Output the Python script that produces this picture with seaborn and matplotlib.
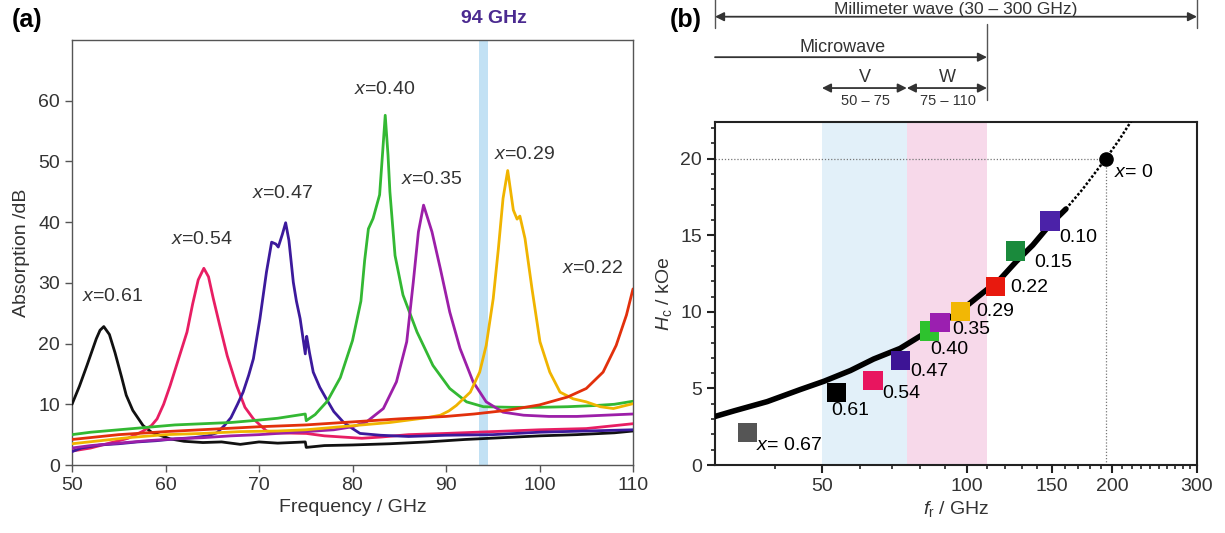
import numpy as np
import pandas as pd
import matplotlib
matplotlib.use("Agg")
import matplotlib.pyplot as plt
import matplotlib.ticker as mticker
import seaborn as sns

# ---------------- data: panel (a) absorption spectra ----------------
f_061 = [50, 50.8, 51.6, 52.1, 52.6, 53.0, 53.4, 54.0, 54.6, 55.3, 55.8, 56.5, 57.6, 58.5, 59.4,
         60.5, 62, 64, 66, 68, 70, 72, 74.95, 75.05, 77, 80, 84, 88, 92, 96, 100, 104, 108, 110]
a_061 = [10.0, 13.0, 16.4, 18.6, 20.8, 22.2, 22.8, 21.5, 18.5, 14.5, 11.5, 9.0, 6.5, 5.4, 4.9,
         4.3, 3.9, 3.7, 3.8, 3.4, 3.8, 3.6, 3.8, 2.9, 3.2, 3.3, 3.5, 3.8, 4.2, 4.5, 4.8, 5.0, 5.3, 5.6]

f_054 = [50, 52, 54, 56, 57.5, 58.5, 59.1, 59.8, 60.5, 61.4, 62.3, 62.9, 63.5, 64.1, 64.6, 65.1,
         65.8, 66.6, 67.6, 68.5, 69.4, 70.8, 72, 74.95, 75.05, 77, 79, 81, 83, 86, 90, 95, 100, 105, 110]
a_054 = [2.3, 2.8, 3.6, 4.4, 5.5, 6.5, 7.6, 10.0, 13.1, 17.5, 21.9, 26.5, 30.5, 32.4, 31.0, 27.5,
         23.0, 18.0, 13.1, 9.5, 7.6, 5.6, 5.3, 5.2, 5.2, 4.8, 4.6, 4.4, 4.6, 5.0, 5.2, 5.5, 5.8, 6.0, 6.8]

f_047 = [50, 51, 53, 55, 57, 59, 61, 63, 64.5, 65.5, 66.3, 67.0, 67.7, 68.3, 68.9, 69.4, 70.1,
         70.8, 71.35, 71.8, 72.06, 72.5, 72.85, 73.2, 73.67, 74.0, 74.4, 74.95, 75.05, 75.1, 75.4,
         75.8, 76.5, 77.2, 78.0, 79.0, 80.0, 80.8, 83, 86, 90, 95, 100, 105, 110]
a_047 = [2.2, 2.8, 3.3, 3.5, 3.8, 4.0, 4.3, 4.5, 4.8, 5.3, 6.5, 7.8, 10.0, 12.0, 14.8, 17.5, 24.1,
         31.8, 36.7, 36.4, 35.9, 38.0, 39.9, 37.0, 30.1, 27.0, 24.1, 18.3, 20.5, 21.2, 18.5,
         15.3, 12.8, 10.9, 8.8, 7.1, 6.0, 5.2, 4.9, 4.7, 4.9, 5.0, 5.4, 5.6, 5.8]

f_040 = [50, 52, 55, 58, 61, 64, 67, 70, 72, 74.95, 75.05, 76.0, 77.3, 78.7, 80.0, 80.9, 81.3,
         81.7, 82.2, 82.9, 83.2, 83.5, 83.8, 84.0, 84.55, 85.4, 86.9, 88.6, 90.4, 92.2, 94.0,
         97, 100, 103, 106, 108, 110]
a_040 = [5.0, 5.4, 5.8, 6.2, 6.6, 6.8, 7.0, 7.4, 7.7, 8.4, 7.3, 8.3, 10.5, 14.4, 20.5, 27.0, 33.7,
         38.9, 40.6, 44.5, 51.0, 57.6, 51.0, 45.0, 34.5, 28.0, 21.9, 16.4, 12.6, 10.4, 9.6,
         9.5, 9.5, 9.6, 9.8, 10.0, 10.5]

f_035 = [50, 52, 55, 58, 61, 64, 67, 70, 73, 75, 78, 80, 81.5, 83.3, 84.7, 85.8, 86.5, 87.05,
         87.6, 88.5, 89.4, 90.4, 91.5, 92.9, 94.3, 96.1, 98.3, 101, 104, 107, 110]
a_035 = [2.8, 3.2, 3.6, 4.0, 4.3, 4.5, 4.8, 5.0, 5.3, 5.5, 5.8, 6.3, 7.1, 9.3, 13.7, 20.3, 30.1,
         38.4, 42.8, 38.4, 32.3, 25.2, 19.2, 13.7, 10.4, 8.7, 8.2, 8.0, 8.0, 8.2, 8.4]

f_029 = [50, 53, 56, 60, 64, 68, 72, 75, 78, 81, 84, 86, 88, 89.4, 90.3, 91.1, 92.6, 93.6, 94.3,
         95.05, 95.6, 96.1, 96.6, 97.2, 97.6, 97.9, 98.45, 99.2, 100.05, 101.1, 102.2, 103.6,
         105.0, 106.5, 107.9, 110]
a_029 = [3.5, 4.0, 4.5, 5.0, 5.2, 5.5, 5.6, 5.8, 6.2, 6.6, 7.0, 7.4, 7.8, 8.2, 8.9, 9.8, 12.0,
         15.3, 19.7, 27.4, 35.6, 43.9, 48.5, 42.0, 40.5, 41.0, 37.3, 29.0, 20.3, 15.3, 12.0, 10.9,
         10.4, 9.6, 9.3, 10.1]

f_022 = [50, 55, 60, 65, 70, 75, 80, 85, 90, 93, 96.5, 100, 103, 105, 106.8, 108.2, 109.3, 110]
a_022 = [4.2, 5.0, 5.5, 5.9, 6.3, 6.6, 7.1, 7.6, 8.0, 8.4, 9.0, 9.9, 11.2, 12.6, 15.3, 19.7, 24.7, 29.0]

spec_labels = ["x=0.61", "x=0.54", "x=0.47", "x=0.40", "x=0.35", "x=0.29", "x=0.22"]
spec_freqs = [f_061, f_054, f_047, f_040, f_035, f_029, f_022]
spec_abs = [a_061, a_054, a_047, a_040, a_035, a_029, a_022]
spec_colors = ["#111111", "#e81e63", "#3c1a9c", "#33b833", "#9c1fa8", "#f0b400", "#e2300c"]
label_f = [54.3, 63.9, 72.5, 83.4, 88.4, 98.4, 105.7]
label_a = [27.8, 37.2, 44.8, 61.8, 47.1, 51.2, 32.4]

# ---------------- data: panel (b) coercivity vs resonance frequency ----------------
pt_x = ["0.67", "0.61", "0.54", "0.47", "0.40", "0.35", "0.29", "0.22", "0.15", "0.10"]
pt_f = [35.0, 53.5, 63.8, 72.8, 83.5, 87.9, 97.1, 114.4, 125.8, 148.6]
pt_hc = [2.14, 4.72, 5.53, 6.82, 8.75, 9.28, 10.03, 11.64, 13.98, 15.93]
pt_colors = ["#555555", "#000000", "#e8155f", "#3d1495", "#2ec22e", "#9b1fb0",
             "#f2b705", "#e8190e", "#1a8a3c", "#4b22a8"]
pt_text = ["$x$= 0.67", "0.61", "0.54", "0.47", "0.40", "0.35", "0.29", "0.22", "0.15", "0.10"]
pt_text_f = [42.8, 57.2, 72.9, 83.6, 91.9, 101.9, 114.4, 134.3, 151.0, 169.9]
pt_text_hc = [1.29, 3.54, 4.65, 6.1, 7.57, 8.85, 10.0, 11.6, 13.25, 14.86]

curve_f = [30.0, 32.9, 38.5, 45.1, 50.5, 57.3, 64.0, 72.6, 82.5, 92.2, 99.7, 107.9, 116.9,
           126.5, 136.9, 148.2, 160.4]
curve_hc = [3.17, 3.54, 4.14, 4.93, 5.47, 6.17, 6.92, 7.61, 8.68, 9.63, 10.38, 11.25, 12.11,
            13.29, 14.36, 15.65, 16.72]
extrap_f = [160.4, 173.6, 194.0, 206.7, 218.5, 225.0]
extrap_hc = [16.72, 18.0, 20.0, 21.22, 22.4, 23.1]
x0_f, x0_hc = 193.8, 20.0

# ---------------- style ----------------
sns.set_style("ticks")
plt.rcParams["font.family"] = ["Liberation Sans", "DejaVu Sans"]
plt.rcParams["mathtext.fontset"] = "custom"
plt.rcParams["mathtext.rm"] = "Liberation Sans"
plt.rcParams["mathtext.it"] = "Liberation Sans:italic"
plt.rcParams["mathtext.bf"] = "Liberation Sans:bold"

TXT = "#333333"
fig = plt.figure(figsize=(12.25, 5.33), dpi=100)

# ================= panel (a) =================
ax1 = fig.add_axes([72 / 1225, 1 - 465 / 533, (633 - 72) / 1225, (465 - 40) / 533])
ax1.axvspan(93.5, 94.5, color="#c2e1f4", lw=0, zorder=0)
for ff, aa, cc in zip(spec_freqs, spec_abs, spec_colors):
    sns.lineplot(x=ff, y=aa, ax=ax1, color=cc, lw=2.0, sort=False, estimator=None, zorder=3)
for lab, lf, la in zip(spec_labels, label_f, label_a):
    ax1.text(lf, la, "$x$" + lab[1:], ha="center", va="center", fontsize=14, color=TXT)
ax1.set_xlim(50, 110)
ax1.set_ylim(0, 70)
ax1.set_xticks([50, 60, 70, 80, 90, 100, 110])
ax1.set_yticks([0, 10, 20, 30, 40, 50, 60])
ax1.tick_params(direction="out", length=5, width=1, colors="#555555", labelcolor=TXT,
                labelsize=14)
for s in ax1.spines.values():
    s.set_color("#555555")
    s.set_linewidth(1.0)
ax1.set_xlabel("Frequency / GHz", fontsize=14, color=TXT, labelpad=4)
ax1.set_ylabel("Absorption /dB", fontsize=14, color=TXT, labelpad=6)
ax1.text(95.1, 1.05, "94 GHz", transform=ax1.get_xaxis_transform(), ha="center",
         va="center", fontsize=14, fontweight="bold", color="#4b2a90", clip_on=False)

# ================= panel (b) =================
ax2 = fig.add_axes([715 / 1225, 1 - 465 / 533, (1197 - 715) / 1225, (465 - 122) / 533])
ax2.set_xscale("log")
ax2.axvspan(50, 75, color="#e2f0f9", lw=0, zorder=0)
ax2.axvspan(75, 110, color="#f7d9ea", lw=0, zorder=0)
ax2.plot([30, x0_f], [x0_hc, x0_hc], ls=(0, (1, 1.5)), color="#777777", lw=0.9, zorder=1)
ax2.plot([x0_f, x0_f], [0, x0_hc], ls=(0, (1, 1.5)), color="#777777", lw=0.9, zorder=1)
sns.lineplot(x=curve_f, y=curve_hc, ax=ax2, color="black", lw=4.0, sort=False,
             estimator=None, zorder=3)
sns.lineplot(x=extrap_f, y=extrap_hc, ax=ax2, color="black", lw=1.8, sort=False,
             estimator=None, zorder=3, linestyle=(0, (1, 0.8)))
df_pts = pd.DataFrame({"f": pt_f, "hc": pt_hc, "x": pt_x})
sns.scatterplot(data=df_pts, x="f", y="hc", hue="x", palette=dict(zip(pt_x, pt_colors)),
                marker="s", s=190, edgecolor="none", legend=False, ax=ax2, zorder=5)
ax2.scatter([x0_f], [x0_hc], s=90, color="black", zorder=6)
for t, tf, th in zip(pt_text, pt_text_f, pt_text_hc):
    ax2.text(tf, th, t, ha="center", va="center", fontsize=14, color="black", zorder=7)
ax2.text(221.9, 19.08, "$x$= 0", ha="center", va="center", fontsize=14, color="black")

ax2.set_xlim(30, 300)
ax2.set_ylim(0, 22.4)
ax2.xaxis.set_major_locator(mticker.FixedLocator([50, 100, 150, 200, 300]))
ax2.xaxis.set_major_formatter(mticker.FixedFormatter(["50", "100", "150", "200", "300"]))
minors = [40, 60, 70, 80, 90, 110, 120, 130, 140, 160, 170, 180, 190,
          210, 220, 230, 240, 250, 260, 270, 280, 290]
ax2.xaxis.set_minor_locator(mticker.FixedLocator(minors))
ax2.xaxis.set_minor_formatter(mticker.NullFormatter())
ax2.set_yticks([0, 5, 10, 15, 20])
ax2.yaxis.set_minor_locator(mticker.MultipleLocator(1))
ax2.tick_params(which="major", direction="out", length=6, width=1.5, colors="#222222",
                labelcolor=TXT, labelsize=14)
ax2.tick_params(which="minor", direction="out", length=3, width=1.2, colors="#222222")
for s in ax2.spines.values():
    s.set_color("#222222")
    s.set_linewidth(1.5)
ax2.set_xlabel("$f_\\mathrm{r}$ / GHz", fontsize=14, color=TXT, labelpad=3)
ax2.set_ylabel("$H_\\mathrm{c}$ / kOe", fontsize=14, color=TXT, labelpad=4)

# band annotations above panel (b)
tr = ax2.get_xaxis_transform()
AR = "#333333"
def arrow(x0, x1, y, style):
    ax2.annotate("", xy=(x1, y), xytext=(x0, y), xycoords=tr, textcoords=tr,
                 arrowprops=dict(arrowstyle=style, color=AR, lw=1.3, mutation_scale=13,
                                 shrinkA=0, shrinkB=0), annotation_clip=False)

def vline(x, y0, y1):
    ax2.plot([x, x], [y0, y1], transform=tr, color="#555555", lw=1.0, clip_on=False)

vline(30, 1.275, 1.36)
vline(300, 1.275, 1.36)
arrow(30, 300, 1.307, "<|-|>")
ax2.text(94.9, 1.351, "Millimeter wave (30 – 300 GHz)", transform=tr, ha="center",
         va="top", fontsize=12.5, color=TXT, clip_on=False)
vline(110, 1.064, 1.285)
arrow(30, 110, 1.189, "-|>")
ax2.text(55.2, 1.204, "Microwave", transform=tr, ha="center", va="baseline",
         fontsize=13, color=TXT, clip_on=False)
arrow(50, 75, 1.099, "<|-|>")
arrow(75, 110, 1.099, "<|-|>")
ax2.text(61.5, 1.118, "V", transform=tr, ha="center", va="baseline", fontsize=13,
         color=TXT, clip_on=False)
ax2.text(91.0, 1.118, "W", transform=tr, ha="center", va="baseline", fontsize=13,
         color=TXT, clip_on=False)
ax2.text(61.5, 1.062, "50 – 75", transform=tr, ha="center", va="center", fontsize=10.5,
         color=TXT, clip_on=False)
ax2.text(91.5, 1.062, "75 – 110", transform=tr, ha="center", va="center", fontsize=10.5,
         color=TXT, clip_on=False)

# panel letters
fig.text(27 / 1225, 1 - 20 / 533, "(a)", ha="center", va="center", fontsize=18,
         fontweight="bold", color="black")
fig.text(686 / 1225, 1 - 20 / 533, "(b)", ha="center", va="center", fontsize=18,
         fontweight="bold", color="black")

fig.savefig("out.png", dpi=100)
